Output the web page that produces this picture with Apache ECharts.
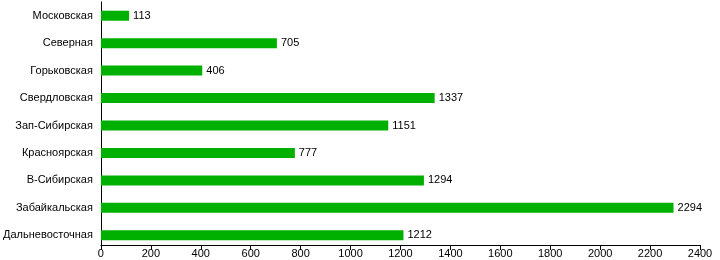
<!DOCTYPE html>
<html><head><meta charset="utf-8">
<script src="https://cdn.jsdelivr.net/npm/echarts@6/dist/echarts.min.js"></script>
<style>html,body{margin:0;padding:0;background:#fff}#c{width:720px;height:260px}</style>
</head><body><div id="c"></div>
<script>
const categories = ["Московская","Северная","Горьковская","Свердловская","Зап-Сибирская","Красноярская","В-Сибирская","Забайкальская","Дальневосточная"];
const values = [113,705,406,1337,1151,777,1294,2294,1212];
const xTicks = [0,200,400,600,800,1000,1200,1400,1600,1800,2000,2200,2400];

const chart = echarts.init(document.getElementById('c'), null, {renderer:'canvas'});
chart.setOption({
  animation:false,
  grid:{left:100,right:20,top:2,height:247},
  xAxis:{type:'value',min:xTicks[0],max:xTicks[xTicks.length-1],interval:200,offset:-4,
    axisLine:{show:true,lineStyle:{color:'#000',width:1}},
    axisTick:{show:true,length:5,lineStyle:{color:'#000'}},
    splitLine:{show:false},
    axisLabel:{color:'#000',fontFamily:'Liberation Sans',fontSize:11,margin:3,formatter:v=>String(v)}},
  yAxis:{type:'category',data:categories,inverse:true,
    axisLine:{show:true,lineStyle:{color:'#000',width:1}},
    axisTick:{show:false},
    axisLabel:{color:'#000',fontFamily:'Liberation Sans',fontSize:11,margin:8}},
  series:[{type:'bar',data:values,barWidth:10,itemStyle:{color:'#00B000'},
    label:{show:true,position:'right',distance:4,color:'#000',fontFamily:'Liberation Sans',fontSize:11}}]
});
</script></body></html>
